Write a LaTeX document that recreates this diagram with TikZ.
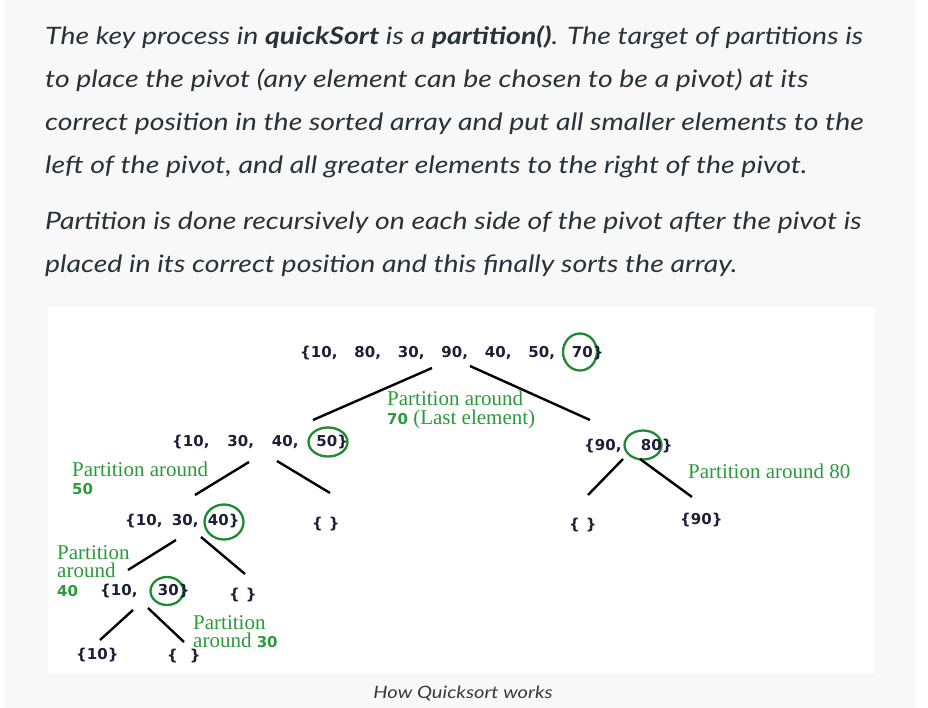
\documentclass[tikz,border=0pt]{standalone}
\usepackage{fontspec}
\setmainfont{Lato}
\newfontfamily\parafont{Lato}[FakeStretch=1.185]
\newfontfamily\arrfont{DejaVu Sans}
\newfontfamily\serfont{Liberation Serif}
\usetikzlibrary{shapes.geometric}
\definecolor{pagegray}{HTML}{F8F8F8}
\definecolor{txtcol}{HTML}{273239}
\definecolor{arrcol}{HTML}{1E1E38}
\definecolor{lblgreen}{HTML}{2A9A3A}
\definecolor{ringgreen}{HTML}{1E8A32}
\definecolor{capcol}{HTML}{3A3A3A}
\newcommand{\itm}[2]{\makebox[#1pt][l]{#2}}
\newcommand{\gnum}[1]{{\arrfont\bfseries\fontsize{15}{15}\selectfont #1}}
\tikzset{
  para/.style={anchor=base west, inner sep=0pt, text=txtcol, font=\parafont\itshape\fontsize{24}{28}\selectfont},
  arr/.style={anchor=base west, inner sep=0pt, text=arrcol, font=\arrfont\bfseries\fontsize{15}{15}\selectfont},
  lbl/.style={anchor=base west, inner sep=0pt, text=lblgreen, font=\serfont\fontsize{21}{19}\selectfont},
  ring/.style={ellipse, draw=ringgreen, line width=2.3pt, inner sep=0pt},
  edge/.style={line width=2.4pt, black},
}
\begin{document}
\begin{tikzpicture}[x=1pt,y=-1pt]
\useasboundingbox (0,0) rectangle (928,708);
\fill[white] (0,0) rectangle (928,708);
\fill[pagegray] (4,0) rectangle (916,708);
\fill[white] (48,307) rectangle (875,673);

% paragraphs
\node[para] (p1) at (45,45) {The key process in \textbf{quickSort} is a \textbf{partition()}. The target of partitions is};
\node[para] (p2) at (45,87.7) {to place the pivot (any element can be chosen to be a pivot) at its};
\node[para] (p3) at (45,130.4) {correct position in the sorted array and put all smaller elements to the};
\node[para] (p4) at (45,173.1) {left of the pivot, and all greater elements to the right of the pivot.};
\node[para] (p5) at (45,230) {Partition is done recursively on each side of the pivot after the pivot is};
\node[para] (p6) at (45,272.7) {placed in its correct position and this finally sorts the array.};

% rings (drawn first, under text)
\node[ring, minimum width=34pt, minimum height=37pt] (r70) at (580,352) {};
\node[ring, minimum width=39pt, minimum height=29pt] (r50) at (328,442) {};
\node[ring, minimum width=37pt, minimum height=29pt] (r80) at (643,445) {};
\node[ring, minimum width=39pt, minimum height=35pt] (r40) at (224,522) {};
\node[ring, minimum width=33pt, minimum height=28pt] (r30) at (167,591) {};

% arrays
\node[arr] (a0) at (300,357) {\{\itm{43.5}{10,}\itm{43.5}{80,}\itm{43.5}{30,}\itm{43.5}{90,}\itm{43.5}{40,}\itm{43.5}{50,}70\}};
\node[arr] (a50) at (172,446) {\{\itm{44.5}{10,}\itm{44.5}{30,}\itm{44.5}{40,}50\}};
\node[arr] (a80) at (584,450) {\{\itm{46}{90,}80\}};
\node[arr] (a40) at (125,525) {\{\itm{36}{10,}\itm{36}{30,}40\}};
\node[arr] (e1) at (312,528) {\{\hspace{6pt}\}};
\node[arr] (e3) at (569,529) {\{\hspace{6pt}\}};
\node[arr] (a90) at (680,524) {\{90\}};
\node[arr] (a30) at (100,595) {\{\itm{47}{10,}30\}};
\node[arr] (e2) at (229,599) {\{\hspace{6pt}\}};
\node[arr] (a10) at (76,659) {\{10\}};
\node[arr] (e4) at (167,660) {\{\hspace{12pt}\}};

% connector end points
\coordinate (t1) at (432,368); \coordinate (b1) at (313,420);
\coordinate (t2) at (470,366); \coordinate (b2) at (590,420);
\coordinate (t3) at (249,462); \coordinate (b3) at (195,495);
\coordinate (t4) at (277,461); \coordinate (b4) at (330,493);
\coordinate (t5) at (623,459); \coordinate (b5) at (588,495);
\coordinate (t6) at (640,459); \coordinate (b6) at (692,497);
\coordinate (t7) at (176,540); \coordinate (b7) at (128,570);
\coordinate (t8) at (201,537); \coordinate (b8) at (245,574);
\coordinate (t9) at (133,610); \coordinate (b9) at (100,640);
\coordinate (t10) at (148,608); \coordinate (b10) at (184,642);
\foreach \i in {1,...,10} \draw[edge] (t\i) -- (b\i);

% green labels
\node[lbl] (l70a) at (387,405) {Partition around};
\node[lbl] (l70b) at (387,424) {\gnum{70} (Last element)};
\node[lbl] (l50a) at (72,476) {Partition around};
\node[lbl] (l50b) at (72,494) {\gnum{50}};
\node[lbl] (l80) at (688,478) {Partition around 80};
\node[lbl] (l40a) at (57,559) {Partition};
\node[lbl] (l40b) at (57,577) {around};
\node[lbl] (l40c) at (57,596) {\gnum{40}};
\node[lbl] (l30a) at (193,629) {Partition};
\node[lbl] (l30b) at (193,647) {around \gnum{30}};

% caption
\node[anchor=base, inner sep=0pt, text=capcol, font=\parafont\itshape\fontsize{17}{20}\selectfont] (cap) at (463,698) {How Quicksort works};
\end{tikzpicture}
\end{document}
